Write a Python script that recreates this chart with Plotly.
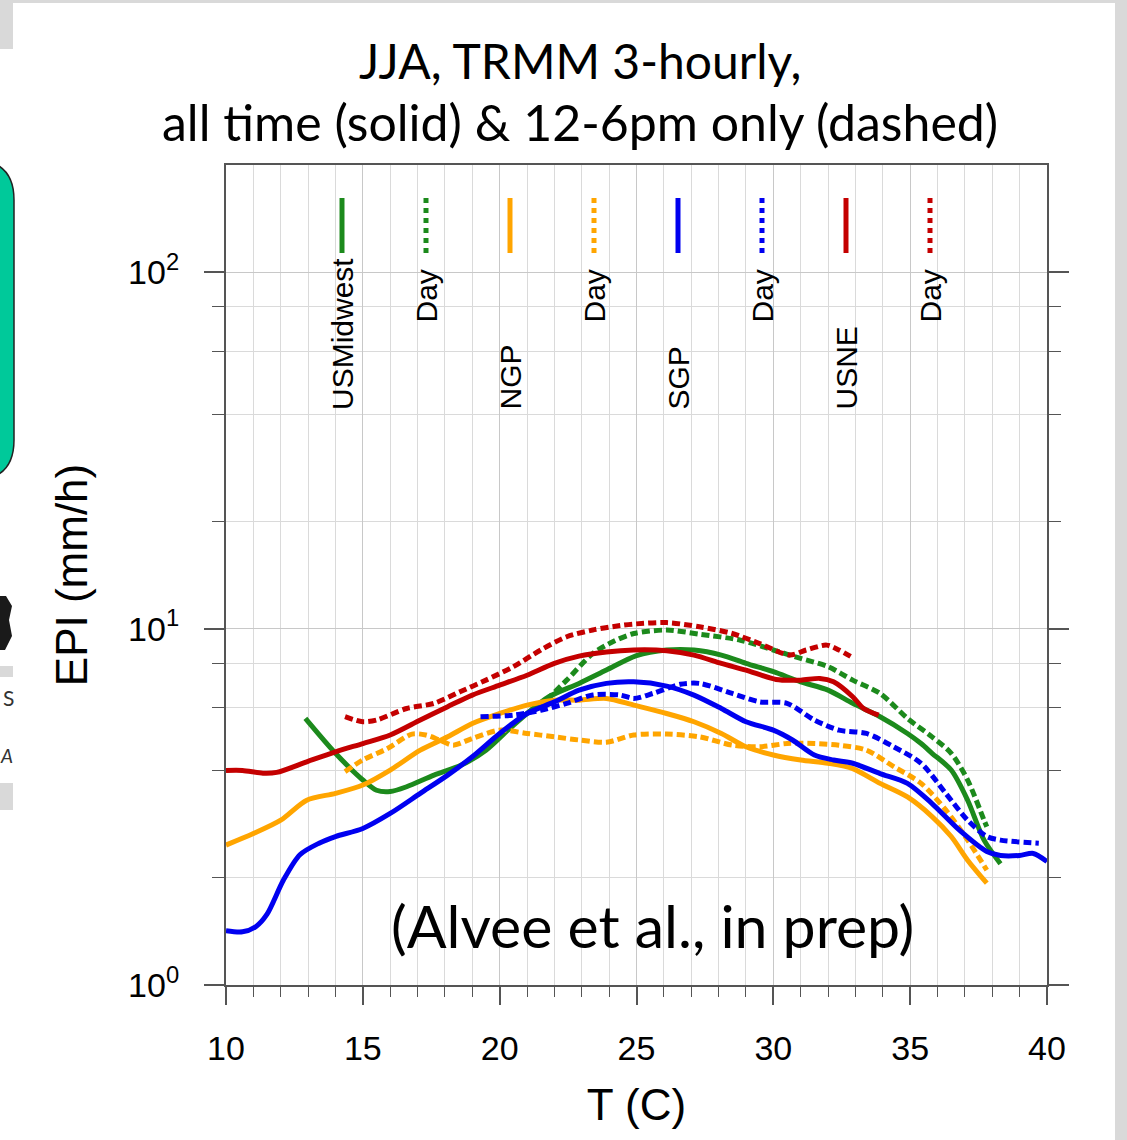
import plotly.graph_objects as go

# ---------------------------------------------------------------------------
# Data — x: temperature (C), y: EPI (mm/h)
# ---------------------------------------------------------------------------

MIDWEST_X = [12.9, 14.0, 15.0, 15.5, 16.0, 16.6, 17.6, 18.6, 19.5, 20.3, 21.0, 21.8, 22.9, 23.9,
             25.0, 26.1, 27.1, 28.1, 29.0, 30.0, 31.0, 32.0, 32.9, 33.9, 34.9, 35.4, 35.8, 36.5,
             37.1, 37.7, 38.3]
MIDWEST_Y = [5.6, 4.47, 3.76, 3.52, 3.49, 3.60, 3.88, 4.14, 4.56, 5.19, 5.78, 6.44, 7.02, 7.65,
             8.4, 8.71, 8.71, 8.43, 7.99, 7.57, 7.09, 6.72, 6.17, 5.66, 5.08, 4.76, 4.47, 4.01,
             3.30, 2.55, 2.19]

MIDWEST_DAY_X = [21.7, 22.45, 23.4, 24.15, 24.9, 26.1, 27.3, 28.8, 30.0, 31.0, 32.0, 32.9, 33.9,
                 34.9, 35.8, 36.5, 37.1, 37.7, 37.8]
MIDWEST_DAY_Y = [6.3, 7.17, 8.51, 9.2, 9.69, 9.91, 9.65, 9.28, 8.71, 8.25, 7.82, 7.17, 6.58,
                 5.6, 4.97, 4.47, 3.76, 2.90, 2.78]

NGP_X = [10.0, 11.0, 12.0, 12.95, 14.0, 15.0, 16.0, 17.1, 18.1, 19.0, 20.0, 21.0, 22.0, 22.9,
         23.9, 24.9, 26.1, 27.1, 28.1, 29.0, 30.0, 31.0, 32.0, 32.9, 33.9, 34.9, 35.8, 36.5,
         37.1, 37.8]
NGP_Y = [2.47, 2.66, 2.90, 3.30, 3.45, 3.64, 4.01, 4.56, 4.97, 5.42, 5.78, 6.10, 6.30, 6.30,
         6.37, 6.10, 5.78, 5.48, 5.08, 4.66, 4.42, 4.28, 4.19, 4.05, 3.68, 3.37, 2.97, 2.61,
         2.24, 1.93]

NGP_DAY_X = [14.35, 15.0, 15.9, 16.8, 17.3, 17.8, 18.3, 19.0, 20.0, 21.0, 22.0, 22.9, 23.9, 24.9,
             26.1, 27.3, 28.5, 29.5, 30.5, 31.5, 32.4, 33.4, 34.4, 35.4, 36.3, 37.1, 37.8]
NGP_DAY_Y = [3.97, 4.28, 4.61, 5.06, 5.03, 4.87, 4.71, 4.92, 5.19, 5.08, 4.97, 4.87, 4.80, 5.03,
             5.06, 4.97, 4.71, 4.66, 4.76, 4.76, 4.71, 4.56, 4.10, 3.68, 3.10, 2.55, 2.10]

SGP_X = [10.0, 10.6, 11.1, 11.5, 12.1, 12.7, 13.4, 14.0, 15.0, 16.0, 17.1, 18.1, 19.0, 20.0,
         21.0, 22.0, 22.9, 23.9, 24.9, 26.1, 27.1, 28.1, 29.0, 30.0, 30.7, 31.5, 32.2, 32.9,
         33.9, 34.9, 35.8, 36.8, 37.8, 38.3, 39.0, 39.5, 40.0]
SGP_Y = [1.42, 1.41, 1.46, 1.58, 1.97, 2.32, 2.50, 2.61, 2.75, 3.03, 3.45, 3.88, 4.37, 5.08,
         5.78, 6.23, 6.72, 7.02, 7.09, 6.90, 6.51, 5.97, 5.48, 5.19, 4.87, 4.42, 4.28, 4.19,
         3.92, 3.68, 3.23, 2.72, 2.37, 2.31, 2.31, 2.34, 2.22]

SGP_DAY_X = [19.3, 20.5, 21.5, 22.45, 23.4, 24.4, 24.9, 25.6, 26.6, 27.3, 28.5, 29.5, 30.5, 31.5,
             32.4, 33.4, 34.4, 35.4, 36.3, 37.1, 37.8, 38.3, 39.7]
SGP_DAY_Y = [5.66, 5.72, 5.90, 6.17, 6.51, 6.51, 6.37, 6.58, 6.98, 7.02, 6.58, 6.23, 6.17, 5.54,
             5.19, 5.08, 4.66, 4.19, 3.45, 2.90, 2.61, 2.55, 2.50]

USNE_X = [10.0, 10.6, 11.35, 11.85, 12.95, 14.0, 15.0, 16.0, 17.1, 18.1, 19.0, 20.0, 21.0, 22.0,
          22.9, 23.9, 24.9, 26.1, 27.1, 28.1, 29.0, 30.1, 31.0, 31.7, 32.2, 32.9, 33.3, 33.85]
USNE_Y = [4.0, 4.0, 3.93, 3.95, 4.23, 4.51, 4.76, 5.03, 5.54, 6.04, 6.51, 6.94, 7.40, 7.99,
          8.37, 8.6, 8.71, 8.67, 8.43, 7.99, 7.65, 7.20, 7.17, 7.25, 7.09, 6.44, 5.97, 5.72]

USNE_DAY_X = [14.35, 15.0, 15.5, 16.6, 17.6, 18.55, 19.5, 20.5, 21.5, 22.45, 23.4, 24.4, 24.9,
              26.1, 27.3, 28.5, 29.5, 30.6, 31.2, 31.95, 32.4, 32.95]
USNE_DAY_Y = [5.66, 5.48, 5.54, 5.97, 6.17, 6.65, 7.17, 7.82, 8.71, 9.49, 9.91, 10.2, 10.3,
              10.4, 10.12, 9.69, 9.08, 8.43, 8.71, 8.99, 8.71, 8.25]

REGIONS = ["USMidwest", "NGP", "SGP", "USNE"]
REGION_COLORS = {
    "USMidwest": "#1C8A1C",
    "NGP": "#FFA500",
    "SGP": "#0000F0",
    "USNE": "#C40000",
}
SERIES = {
    "USMidwest": ((MIDWEST_X, MIDWEST_Y), (MIDWEST_DAY_X, MIDWEST_DAY_Y)),
    "NGP": ((NGP_X, NGP_Y), (NGP_DAY_X, NGP_DAY_Y)),
    "SGP": ((SGP_X, SGP_Y), (SGP_DAY_X, SGP_DAY_Y)),
    "USNE": ((USNE_X, USNE_Y), (USNE_DAY_X, USNE_DAY_Y)),
}

X_TICKS = [10, 15, 20, 25, 30, 35, 40]
Y_TICKS = [1, 10, 100]
Y_TICK_TEXT = ["10<sup>0</sup>", "10<sup>1</sup>", "10<sup>2</sup>"]
Y_MINOR = [2, 4, 6, 8, 20, 40, 60, 80]

# ---------------------------------------------------------------------------
# Style
# ---------------------------------------------------------------------------

W, H = 1127, 1140
PLOT_L, PLOT_R, PLOT_T, PLOT_B = 226, 1047, 165, 985   # plot box in pixels
AXIS_FONT = "Liberation Sans, Arial, sans-serif"
SLIDE_FONT = "Lato, 'Open Sans', sans-serif"
FRAME = "#555555"
GRID = "#dadada"
DASH = "8px,4px"
SLIDE_GRAY = "#d9d9d9"


def px_x(px):
    return (px - PLOT_L) / (PLOT_R - PLOT_L)


def px_y(py):
    return (PLOT_B - py) / (PLOT_B - PLOT_T)


fig = go.Figure()

for region in REGIONS:
    (sx, sy), (dx, dy) = SERIES[region]
    color = REGION_COLORS[region]
    fig.add_trace(go.Scatter(
        x=sx, y=sy, mode="lines", name=region,
        line=dict(color=color, width=5, shape="spline", smoothing=0.8),
    ))
    fig.add_trace(go.Scatter(
        x=dx, y=dy, mode="lines", name=region + " Day",
        line=dict(color=color, width=5, shape="spline", smoothing=0.8, dash=DASH),
    ))

# in-plot legend: short vertical strokes with rotated labels
shapes = []
annotations = []
leg_x0, leg_step = 342, 84
for i, region in enumerate(REGIONS):
    color = REGION_COLORS[region]
    for j, (label, dash, bottom) in enumerate([(region, "solid", 412), ("Day", "dot", 325)]):
        xp = px_x(leg_x0 + leg_step * (2 * i + j))
        shapes.append(dict(
            type="line", xref="paper", yref="paper",
            x0=xp, x1=xp, y0=px_y(253), y1=px_y(198),
            line=dict(color=color, width=5, dash=dash),
        ))
        annotations.append(dict(
            text=label, xref="paper", yref="paper", x=xp, y=px_y(bottom),
            xanchor="center", yanchor="bottom", textangle=-90, showarrow=False,
            font=dict(family=AXIS_FONT, size=30, color="black"),
        ))

# title lines and credit (slide text)
annotations += [
    dict(text="JJA, TRMM 3-hourly,", xref="paper", yref="paper",
         x=px_x(580), y=px_y(60), xanchor="center", yanchor="middle", showarrow=False,
         font=dict(family=SLIDE_FONT, size=48, color="black")),
    dict(text="all time (solid) &amp; 12-6pm only (dashed)", xref="paper", yref="paper",
         x=px_x(580), y=px_y(122), xanchor="center", yanchor="middle", showarrow=False,
         font=dict(family=SLIDE_FONT, size=50, color="black")),
    dict(text="(Alvee et al., in prep)", xref="paper", yref="paper",
         x=px_x(652), y=px_y(925), xanchor="center", yanchor="middle", showarrow=False,
         font=dict(family=SLIDE_FONT, size=59, color="black")),
    # letters of neighbouring slide content at the left edge
    dict(text="S", xref="paper", yref="paper", x=px_x(16), y=px_y(697),
         xanchor="right", yanchor="middle", showarrow=False,
         font=dict(family=SLIDE_FONT, size=21, color="#333")),
    dict(text="<i>A</i>", xref="paper", yref="paper", x=px_x(15), y=px_y(755),
         xanchor="right", yanchor="middle", showarrow=False,
         font=dict(family=SLIDE_FONT, size=19, color="#333")),
]

# slide background fragments around the figure
for (a, b, c, d) in [
    (0, 0, W, 3),
    (0, 0, 13, 49),
    (1115, 0, W, H),
    (0, 666, 13, 677),
    (0, 783, 13, 810),
]:
    shapes.append(dict(type="rect", xref="paper", yref="paper", layer="below",
                       x0=px_x(a), x1=px_x(c), y0=px_y(d), y1=px_y(b),
                       line=dict(width=0), fillcolor=SLIDE_GRAY))

# rounded teal box peeking in from the left edge
tx0, tx1, ty0, ty1, rad = px_x(-40), px_x(14), px_y(480), px_y(160), 40
rx = rad / (PLOT_R - PLOT_L)
ry = rad / (PLOT_B - PLOT_T)
teal_path = (
    f"M {tx0},{ty1} L {tx1 - rx},{ty1} Q {tx1},{ty1} {tx1},{ty1 - ry} "
    f"L {tx1},{ty0 + ry} Q {tx1},{ty0} {tx1 - rx},{ty0} L {tx0},{ty0} Z"
)
shapes.append(dict(type="path", xref="paper", yref="paper", path=teal_path,
                   line=dict(width=1.5, color="#222"), fillcolor="#00C99A"))

# dark fragment of an icon cut by the left edge
bx0, bx1, by0, by1 = px_x(-12), px_x(12), px_y(650), px_y(596)
blob_path = (
    f"M {bx0},{by1} L {px_x(6)},{by1} L {bx1},{px_y(606)} L {px_x(9)},{px_y(620)} "
    f"L {bx1},{px_y(636)} L {px_x(5)},{by0} L {bx0},{by0} Z"
)
shapes.append(dict(type="path", xref="paper", yref="paper", path=blob_path,
                   line=dict(width=0), fillcolor="#1a1a1a"))

AXIS_COMMON = dict(
    showline=True, linecolor=FRAME, linewidth=2,
    ticks="outside", tickcolor=FRAME, tickwidth=2,
    showgrid=True, gridcolor="#c8c8c8", gridwidth=1, zeroline=False,
    tickfont=dict(family=AXIS_FONT, size=34, color="black"),
)

fig.update_layout(
    width=W, height=H,
    paper_bgcolor="white", plot_bgcolor="white",
    margin=dict(l=PLOT_L, r=W - PLOT_R, t=PLOT_T, b=H - PLOT_B, autoexpand=False),
    showlegend=False,
    shapes=shapes,
    annotations=annotations,
    xaxis=dict(
        **AXIS_COMMON,
        mirror=True,
        range=[10, 40], tickmode="array", tickvals=X_TICKS,
        ticklen=18, ticklabelstandoff=14,
        minor=dict(dtick=1, ticks="outside", ticklen=10, tickcolor=FRAME, tickwidth=1,
                   showgrid=True, gridcolor=GRID, gridwidth=1),
        title=dict(text="T (C)", standoff=23,
                   font=dict(family=AXIS_FONT, size=44, color="black")),
    ),
    yaxis=dict(
        **AXIS_COMMON,
        mirror="ticks",
        type="log", range=[0, 2.30103],
        tickmode="array", tickvals=Y_TICKS, ticktext=Y_TICK_TEXT,
        ticklen=20, ticklabelstandoff=18,
        minor=dict(tickvals=Y_MINOR, ticks="outside", ticklen=12, tickcolor=FRAME, tickwidth=1,
                   showgrid=True, gridcolor=GRID, gridwidth=1),
        title=dict(text="EPI (mm/h)", standoff=27,
                   font=dict(family=AXIS_FONT, size=44, color="black")),
    ),
)

# the page is photographed edge to edge, so drop the default body margin
fig.write_html(
    "out.html",
    config={"displayModeBar": False},
    post_script="document.body.style.margin = '0';",
)
